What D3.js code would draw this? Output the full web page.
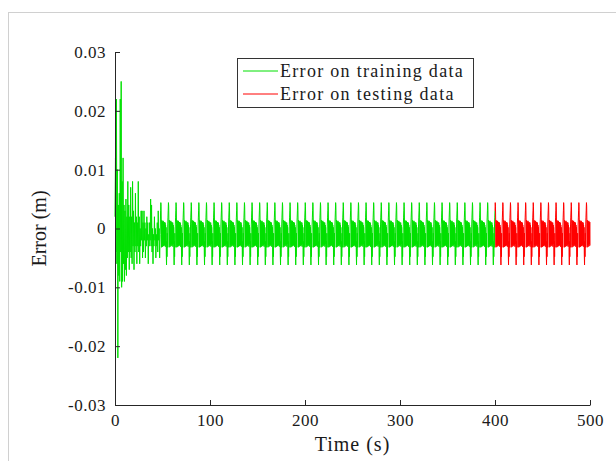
<!DOCTYPE html>
<html>
<head>
<meta charset="utf-8">
<script src="https://cdn.jsdelivr.net/npm/d3@7"></script>
<style>
  body { margin: 0; background: #fff; }
</style>
</head>
<body>
<div id="chart"></div>
<script>
// --- data ---

// transient part, one sample every 0.5 s from t = 0 to 48 s
const transientStep = 0.5;
const transientErr = [
  0.002, 0.012, -0.004, 0.022, -0.006, 0.010, -0.022, 0.004, -0.008, 0.006,
  -0.009, 0.022, -0.004, 0.025, -0.010, 0.008, -0.009, 0.012, -0.006, 0.004,
  -0.009, 0.003, -0.007, 0.005, -0.008, 0.002, -0.005, 0.008, -0.004, 0.004,
  -0.007, 0.002, -0.004, 0.007, -0.005, 0.002, -0.006, 0.008, -0.003, 0.003,
  -0.007, 0.001, -0.004, 0.006, -0.003, 0.002, -0.006, 0.001, -0.003, 0.008,
  -0.004, 0.002, -0.006, 0.000, -0.003, 0.003, -0.002, 0.003, -0.005, 0.001,
  -0.004, 0.003, -0.002, 0.001, -0.005, 0.000, -0.003, 0.002, -0.002, 0.001,
  -0.006, -0.001, -0.003, 0.001, -0.002, 0.005, -0.003, 0.004, -0.004, 0.000,
  -0.006, -0.001, -0.003, 0.002, -0.002, 0.000, -0.005, -0.001, -0.003, 0.001,
  -0.004, 0.003, -0.002, 0.000, -0.005, -0.001, 0.003
];

// steady state: one 8 s cycle, sampled every 0.25 s, repeated up to 500 s
const cycleStart = 48;
const cyclePeriod = 8;
const cycleStep = 0.25;
const cycleErr = [
  0.0030, 0.0044, 0.0038, 0.0008, -0.0032, 0.0014, -0.0028, 0.0012,
  -0.0031, 0.0010, -0.0027, 0.0013, -0.0030, 0.0009, -0.0026, 0.0011,
  -0.0029, 0.0008, -0.0027, 0.0010, -0.0031, 0.0006, -0.0026, 0.0002,
  -0.0045, -0.0062, -0.0022, -0.0048, -0.0008, -0.0032, 0.0006, 0.0018
];

const splitTime = 400;   // training / testing boundary
const endTime = 500;

const xTicks = [0, 100, 200, 300, 400, 500];
const yTicks = [-0.03, -0.02, -0.01, 0, 0.01, 0.02, 0.03];
const yTickLabels = ["-0.03", "-0.02", "-0.01", "0", "0.01", "0.02", "0.03"];

const seriesNames = ["Error on training data", "Error on testing data"];
const seriesColors = ["#00e000", "#ff0000"];

const serif = "'Liberation Serif', 'DejaVu Serif', serif";

// --- build the time series ---
const points = transientErr.map((e, i) => [i * transientStep, e]);
for (let t0 = cycleStart; t0 < endTime; t0 += cyclePeriod) {
  cycleErr.forEach((e, j) => {
    const t = t0 + j * cycleStep;
    if (t > transientStep * (transientErr.length - 1) && t <= endTime) points.push([t, e]);
  });
}
const training = points.filter(p => p[0] <= splitTime);
const testing = points.filter(p => p[0] >= splitTime);

// --- drawing ---
const width = 616, height = 461;
const svg = d3.select("#chart").append("svg")
  .attr("width", width)
  .attr("height", height)
  .attr("font-family", serif);

// figure frame
svg.append("rect")
  .attr("x", 8.5).attr("y", 12.5)
  .attr("width", 700).attr("height", 600)
  .attr("fill", "none").attr("stroke", "#d0d0d0");

const x = d3.scaleLinear().domain([0, 500]).range([115, 590]);
const y = d3.scaleLinear().domain([-0.03, 0.03]).range([405, 52]);

const line = d3.line().x(d => x(d[0])).y(d => y(d[1]));

svg.append("path").datum(training)
  .attr("d", line).attr("fill", "none")
  .attr("stroke", seriesColors[0]).attr("stroke-width", 1);
svg.append("path").datum(testing)
  .attr("d", line).attr("fill", "none")
  .attr("stroke", seriesColors[1]).attr("stroke-width", 1);

// axes (MATLAB style: ticks pointing inwards)
const xAxis = d3.axisBottom(x).tickValues(xTicks).tickSizeInner(-5).tickSizeOuter(0).tickPadding(9);
const yAxis = d3.axisLeft(y).tickValues(yTicks).tickSizeInner(-5).tickSizeOuter(0).tickPadding(9)
  .tickFormat((d, i) => yTickLabels[i]);

const gx = svg.append("g").attr("transform", `translate(0,${y(-0.03)})`).call(xAxis);
const gy = svg.append("g").attr("transform", `translate(${x(0)},0)`).call(yAxis);
[gx, gy].forEach(g => {
  g.attr("font-family", serif).attr("font-size", 17);
  g.select(".domain").attr("stroke", "#262626");
  g.selectAll(".tick line").attr("stroke", "#262626");
  g.selectAll(".tick text").attr("fill", "#1a1a1a").attr("letter-spacing", 0.5);
});

svg.append("text")
  .attr("x", x(250)).attr("y", 451)
  .attr("text-anchor", "middle")
  .attr("font-size", 20).attr("fill", "#1a1a1a")
  .attr("letter-spacing", 1)
  .text("Time (s)");

svg.append("text")
  .attr("transform", `translate(46,${y(0)}) rotate(-90)`)
  .attr("text-anchor", "middle")
  .attr("font-size", 20).attr("fill", "#1a1a1a")
  .text("Error (m)");

// legend
const legend = svg.append("g");
legend.append("rect")
  .attr("x", 237.5).attr("y", 58.5)
  .attr("width", 236).attr("height", 49)
  .attr("fill", "#fff").attr("stroke", "#333");
seriesNames.forEach((name, i) => {
  const ly = 71 + i * 23;
  legend.append("line")
    .attr("x1", 243).attr("x2", 278)
    .attr("y1", ly).attr("y2", ly)
    .attr("stroke", seriesColors[i]).attr("stroke-width", 1);
  legend.append("text")
    .attr("x", 280).attr("y", ly + 6)
    .attr("font-size", 18).attr("fill", "#1a1a1a")
    .attr("letter-spacing", 1.3)
    .text(name);
});
</script>
</body>
</html>
